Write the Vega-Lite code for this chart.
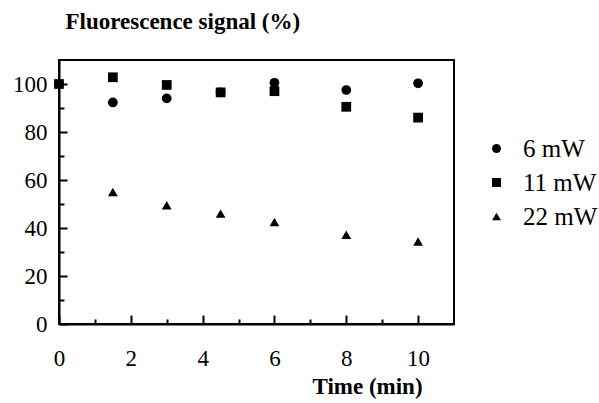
{
  "$schema": "https://vega.github.io/schema/vega-lite/v6.json",
  "autosize": {"type": "none"},
  "width": 395,
  "height": 264,
  "padding": {"left": 59, "top": 60, "right": 145, "bottom": 79},
  "background": "white",
  "config": {
    "font": "Liberation Serif",
    "view": {"stroke": "black", "strokeWidth": 2},
    "axis": {"grid": false, "domainColor": "black", "domainWidth": 2, "tickColor": "black", "tickWidth": 2, "labelColor": "black", "titleColor": "black", "labelFont": "Liberation Serif", "titleFont": "Liberation Serif", "labelFontSize": 23, "titleFontSize": 23, "titleFontWeight": "bold"}
  },
  "data": {
    "values": [
      {"time": 0, "signal": 100, "power": "6 mW"},
      {"time": 1.5, "signal": 92.3, "power": "6 mW"},
      {"time": 3, "signal": 94, "power": "6 mW"},
      {"time": 4.5, "signal": 96.5, "power": "6 mW"},
      {"time": 6, "signal": 100.5, "power": "6 mW"},
      {"time": 8, "signal": 97.5, "power": "6 mW"},
      {"time": 10, "signal": 100.3, "power": "6 mW"},
      {"time": 0, "signal": 100, "power": "11 mW"},
      {"time": 1.5, "signal": 102.8, "power": "11 mW"},
      {"time": 3, "signal": 99.6, "power": "11 mW"},
      {"time": 4.5, "signal": 96.5, "power": "11 mW"},
      {"time": 6, "signal": 97, "power": "11 mW"},
      {"time": 8, "signal": 90.5, "power": "11 mW"},
      {"time": 10, "signal": 86, "power": "11 mW"},
      {"time": 1.5, "signal": 55, "power": "22 mW"},
      {"time": 3, "signal": 49.5, "power": "22 mW"},
      {"time": 4.5, "signal": 46, "power": "22 mW"},
      {"time": 6, "signal": 42.5, "power": "22 mW"},
      {"time": 8, "signal": 37.2, "power": "22 mW"},
      {"time": 10, "signal": 34.4, "power": "22 mW"}
    ]
  },
  "mark": {"type": "point", "filled": true, "opacity": 1, "color": "black", "size": 95},
  "encoding": {
    "x": {
      "field": "time", "type": "quantitative",
      "scale": {"domain": [0, 11], "nice": false, "zero": false},
      "axis": {
        "title": "Time (min)",
        "values": [0, 1, 2, 3, 4, 5, 6, 7, 8, 9, 10],
        "labelExpr": "datum.value % 2 == 0 ? datum.label : ''",
        "tickSize": {"condition": {"test": "datum.value % 2 == 0", "value": -9}, "value": -5},
        "labelPadding": 32,
        "labelBaseline": "top",
        "labelFlush": false,
        "labelOverlap": false,
        "titleX": 308,
        "titleY": 69,
        "titleAlign": "center",
        "titleBaseline": "alphabetic"
      }
    },
    "y": {
      "field": "signal", "type": "quantitative",
      "scale": {"domain": [0, 110], "nice": false},
      "axis": {
        "title": "Fluorescence signal (%)",
        "values": [0, 10, 20, 30, 40, 50, 60, 70, 80, 90, 100],
        "labelExpr": "datum.value % 20 == 0 ? datum.label : ''",
        "tickSize": {"condition": {"test": "datum.value % 20 == 0", "value": -8}, "value": -5},
        "labelPadding": 20,
        "labelFlush": false,
        "labelOverlap": false,
        "titleAngle": 0,
        "titleX": 6,
        "titleY": -32,
        "titleAlign": "left",
        "titleBaseline": "alphabetic"
      }
    },
    "shape": {
      "field": "power", "type": "nominal",
      "scale": {"domain": ["6 mW", "11 mW", "22 mW"], "range": ["circle", "square", "triangle-up"]},
      "legend": {
        "title": null,
        "orient": "none",
        "legendX": 425,
        "legendY": 76,
        "padding": 0,
        "labelFont": "Liberation Serif",
        "labelFontSize": 25,
        "labelColor": "black",
        "labelOffset": 14,
        "rowPadding": 8,
        "symbolFillColor": "black",
        "symbolStrokeColor": "black",
        "symbolSize": 80
      }
    }
  }
}
